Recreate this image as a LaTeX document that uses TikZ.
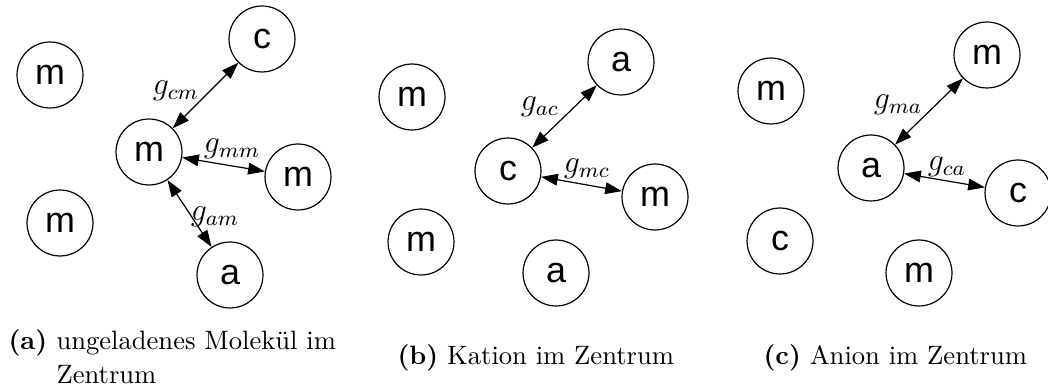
\documentclass[tikz,border=0pt]{standalone}
\usepackage{fontspec}
\newfontfamily\helv{Liberation Sans}
\usetikzlibrary{arrows.meta}
\tikzset{
  part/.style={circle, draw, line width=0.45pt, minimum size=24.8pt, inner sep=0pt, font=\helv\fontsize{13.5}{15}\selectfont},
  rdf/.style={line width=0.45pt, {Triangle[length=6.3pt,width=4.4pt]}-{Triangle[length=6.3pt,width=4.4pt]}},
  glab/.style={inner sep=0pt, font=\fontsize{12}{14}\selectfont},
  captxt/.style={inner sep=0pt, anchor=base west, font=\fontsize{10}{12}\selectfont}
}
\begin{document}
\begin{tikzpicture}[x=0.376pt,y=-0.376pt]
\useasboundingbox (0,0) rectangle (1048,392);
% panel a
\node[part] (a1) at (50,75) {m};
\node[part] (a2) at (60,223) {m};
\node[part] (a3) at (262,39) {c};
\node[part] (a0) at (149,152) {m};
\node[part] (a4) at (298,177) {m};
\node[part] (a5) at (230,275) {a};
\draw[rdf] (a0) -- (a3);
\draw[rdf] (a0) -- (a4);
\draw[rdf] (a0) -- (a5);
\node[glab] (lcm) at (176,91) {$g_{cm}$};
\node[glab] (lmm) at (232,149) {$g_{mm}$};
\node[glab] (lam) at (215,217) {$g_{am}$};
% panel b
\node[part] (b1) at (412,97) {m};
\node[part] (b2) at (421,242) {m};
\node[part] (b3) at (621,62) {a};
\node[part] (b0) at (508,171) {c};
\node[part] (b4) at (655,197) {m};
\node[part] (b5) at (556,273) {a};
\draw[rdf] (b0) -- (b3);
\draw[rdf] (b0) -- (b4);
\node[glab] (lac) at (540,107) {$g_{ac}$};
\node[glab] (lmc) at (587,169) {$g_{mc}$};
% panel c
\node[part] (c1) at (771,91) {m};
\node[part] (c2) at (780,241) {c};
\node[part] (c3) at (987,55) {m};
\node[part] (c0) at (871,168) {a};
\node[part] (c4) at (1018,193) {c};
\node[part] (c5) at (919,273) {m};
\draw[rdf] (c0) -- (c3);
\draw[rdf] (c0) -- (c4);
\node[glab] (lma) at (898,105) {$g_{ma}$};
\node[glab] (lca) at (947,167) {$g_{ca}$};
% captions
\node[captxt] (capa) at (8,350) {\textbf{(a)}};
\node[captxt] (capa1) at (56,350) {ungeladenes Molekül im};
\node[captxt] (capa2) at (56,384) {Zentrum};
\node[captxt] (capb) at (397,365) {\textbf{(b)} Kation im Zentrum};
\node[captxt] (capc) at (763,365) {\textbf{(c)} Anion im Zentrum};
\end{tikzpicture}
\end{document}
